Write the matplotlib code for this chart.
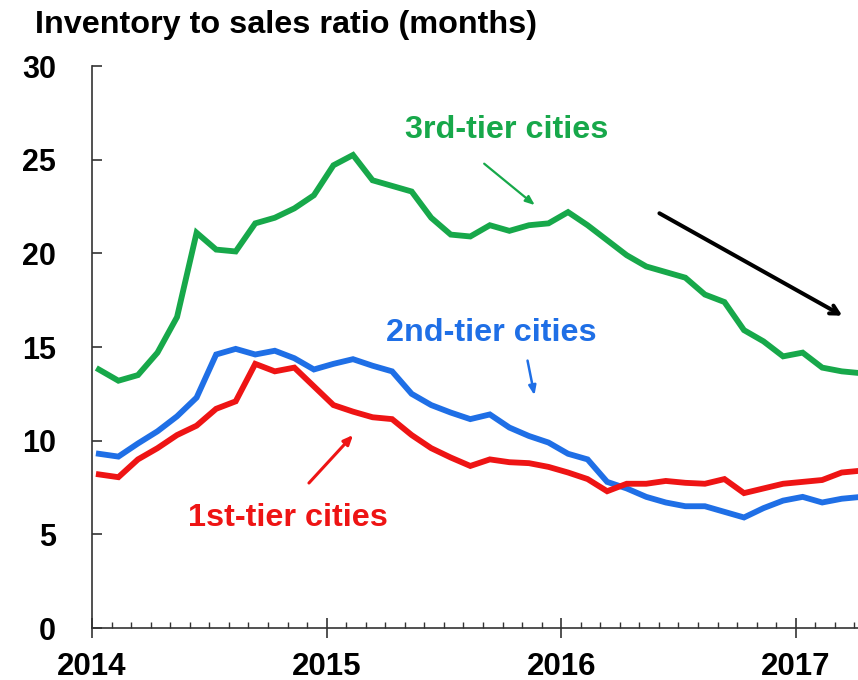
import matplotlib
matplotlib.use("Agg")
import matplotlib.pyplot as plt
import numpy as np

plt.rcParams["font.family"] = ["Liberation Sans", "DejaVu Sans"]
plt.rcParams["font.weight"] = "bold"

# monthly values, Jan 2014 onwards
THIRD_TIER = [13.8, 13.2, 13.5, 14.7, 16.6, 21.1, 20.2, 20.1, 21.6, 21.9,
              22.4, 23.1, 24.7, 25.25, 23.9, 23.6, 23.3, 21.9, 21.0, 20.9,
              21.5, 21.2, 21.5, 21.6, 22.2, 21.5, 20.7, 19.9, 19.3, 19.0,
              18.7, 17.8, 17.4, 15.9, 15.3, 14.5, 14.7, 13.9, 13.7, 13.6]
SECOND_TIER = [9.3, 9.15, 9.85, 10.5, 11.3, 12.3, 14.6, 14.9, 14.6, 14.8,
               14.4, 13.8, 14.1, 14.35, 14.0, 13.7, 12.5, 11.9, 11.5, 11.15,
               11.4, 10.7, 10.25, 9.9, 9.3, 9.0, 7.8, 7.45, 7.0, 6.7,
               6.5, 6.5, 6.2, 5.9, 6.4, 6.8, 7.0, 6.7, 6.9, 7.0]
FIRST_TIER = [8.2, 8.05, 9.0, 9.6, 10.3, 10.8, 11.7, 12.1, 14.1, 13.7,
              13.9, 12.9, 11.9, 11.55, 11.25, 11.15, 10.3, 9.6, 9.1, 8.65,
              9.0, 8.85, 8.8, 8.6, 8.3, 7.95, 7.3, 7.7, 7.7, 7.85,
              7.75, 7.7, 7.95, 7.2, 7.45, 7.7, 7.8, 7.9, 8.3, 8.4]

YEARS = ["2014", "2015", "2016", "2017"]

GREEN = "#17a84a"
BLUE = "#1f6fe6"
RED = "#ee1414"

months = np.arange(len(THIRD_TIER)) + 0.35

fig = plt.figure(figsize=(8.58, 6.8), dpi=100)
ax = fig.add_axes([92 / 858, 52 / 680, (858 - 92) / 858, (628 - 66) / 680])

for values, color in [(THIRD_TIER, GREEN), (SECOND_TIER, BLUE), (FIRST_TIER, RED)]:
    ax.plot(months, values, color=color, linewidth=4.2, solid_joinstyle="miter")

ax.set_xlim(0, (858 - 92) / 19.55)
ax.set_ylim(0, 30)

ax.spines["top"].set_visible(False)
ax.spines["right"].set_visible(False)
for side in ["left", "bottom"]:
    ax.spines[side].set_linewidth(1.2)
    ax.spines[side].set_color("#333333")

ax.set_yticks(range(0, 31, 5))
ax.tick_params(axis="y", direction="in", length=7, width=1.2, pad=26,
               labelsize=22, color="#333333")
ax.set_xticks([12 * i for i in range(len(YEARS))])
ax.set_xticklabels(YEARS)
ax.set_xticks(np.arange(0, 40), minor=True)
ax.tick_params(axis="x", which="major", direction="inout", length=14, width=1.2,
               pad=10, labelsize=22.5, color="#333333")
ax.tick_params(axis="x", which="minor", direction="in", length=4.5, width=1.0,
               color="#333333")
for lab in ax.get_xticklabels() + ax.get_yticklabels():
    lab.set_fontweight("bold")

fig.text(35 / 858, 1 - 33 / 680, "Inventory to sales ratio (months)",
         fontsize=23.3, fontweight="bold", va="baseline", ha="left")

# labels and arrows
ax.text(21.2, 26.6, "3rd-tier cities", color=GREEN, fontsize=23.3,
        fontweight="bold", ha="center", va="center")
ax.annotate("", xy=(22.76, 22.48), xytext=(19.95, 24.88),
            arrowprops=dict(arrowstyle="-|>,head_length=0.55,head_width=0.22",
                            color=GREEN, lw=1.6))

ax.text(20.4, 15.75, "2nd-tier cities", color=BLUE, fontsize=23.3,
        fontweight="bold", ha="center", va="center")
ax.annotate("", xy=(22.66, 12.28), xytext=(22.25, 14.42),
            arrowprops=dict(arrowstyle="-|>,head_length=0.55,head_width=0.22",
                            color=BLUE, lw=1.8))

ax.text(10.0, 5.87, "1st-tier cities", color=RED, fontsize=23.3,
        fontweight="bold", ha="center", va="center")
ax.annotate("", xy=(13.45, 10.41), xytext=(11.0, 7.63),
            arrowprops=dict(arrowstyle="-|>,head_length=0.55,head_width=0.24",
                            color=RED, lw=2.2))

ax.annotate("", xy=(38.5, 16.6), xytext=(28.9, 22.21),
            arrowprops=dict(arrowstyle="->,head_length=0.6,head_width=0.32",
                            color="black", lw=2.9))

fig.savefig("out.png", dpi=100)
